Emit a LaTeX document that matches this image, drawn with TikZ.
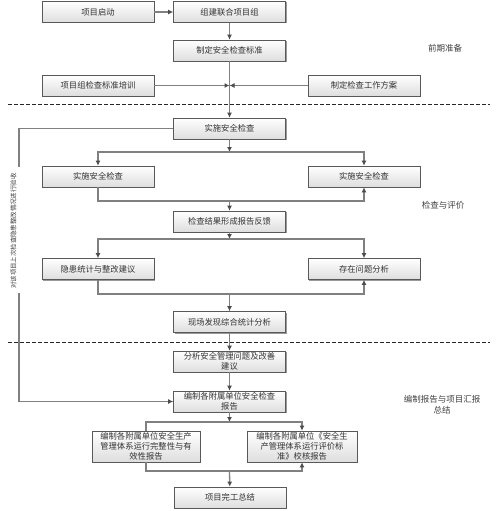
\documentclass[tikz,border=0pt]{standalone}
\usepackage{fontspec}
\newfontfamily\cjk{Noto Sans CJK SC}
\usetikzlibrary{shadows, arrows.meta}

\tikzset{
  box/.style={draw=black!65, line width=0.7pt, top color=white, bottom color=black!13,
    minimum width=112pt, minimum height=21pt, inner sep=1pt, align=center,
    font=\cjk\fontsize{8.3}{10}\selectfont, text=black!80,
    drop shadow={shadow xshift=1pt, shadow yshift=-1pt, fill=black!40, opacity=1}},
  link/.style={draw=black!50, line width=1.3pt},
  phase/.style={font=\cjk\fontsize{8.5}{11}\selectfont, text=black!75, align=center},
}

\begin{document}
\begin{tikzpicture}[x=1pt, y=-1pt, >={Latex[length=5pt, width=5pt, color=black!70]}]
    \useasboundingbox (0,0) rectangle (499,511);

    % phase 1: preparation
    \node[box] (start) at (98, 12) {项目启动};
    \node[box] (team) at (229.5, 12) {组建联合项目组};
    \node[box] (std) at (229.5, 50.5) {制定安全检查标准};
    \node[box] (train) at (98, 85.5) {项目组检查标准培训};
    \node[box] (plan) at (364, 85.5) {制定检查工作方案};
    \node[phase] (ph1) at (445, 48) {前期准备};

    \draw[link, ->] (start) -- (team);
    \draw[link, ->] (team) -- (std);
    \draw[link, ->] (train) -- (train -| std.south);
    \draw[link, ->] (plan) -- (plan -| std.south);

    \draw[black!85, dash pattern=on 4pt off 2pt] (8, 104) -- (490, 104);

    % phase 2: inspection and evaluation
    \node[box] (impl) at (229.5, 128.5) {实施安全检查};
    \node[box] (implL) at (98, 176.5) {实施安全检查};
    \node[box] (implR) at (364, 176.5) {实施安全检查};
    \node[box] (report) at (229.5, 221.5) {检查结果形成报告反馈};
    \node[box] (hazard) at (98, 269) {隐患统计与整改建议};
    \node[box] (problem) at (364, 269) {存在问题分析};
    \node[box] (stat) at (229.5, 322) {现场发现综合统计分析};
    \node[phase] (ph2) at (443, 205) {检查与评价};

    \draw[link, ->] (std) -- (impl);

    \coordinate (j1) at (229.5, 152);
    \coordinate (j2) at (229.5, 201);
    \coordinate (j3) at (229.5, 239);
    \coordinate (j4) at (229.5, 294);
    \draw[link, ->] (impl) -- (j1);
    \draw[link, ->] (j1) -| (implL);
    \draw[link, ->] (j1) -| (implR);
    \draw[link] (implL) |- (j2);
    \draw[link, ->] (j2) -| (implR);
    \draw[link, ->] (j2) -- (report);
    \draw[link, ->] (report) -- (j3);
    \draw[link, ->] (j3) -| (hazard);
    \draw[link, ->] (j3) -| (problem);
    \draw[link] (hazard) |- (j4);
    \draw[link, ->] (j4) -| (problem);
    \draw[link, ->] (j4) -- (stat);

    \draw[black!85, dash pattern=on 4pt off 2pt] (8, 342) -- (490, 342);

    % phase 3: reports and summary
    \node[box] (analyse) at (229.5, 361.5) {分析安全管理问题及改善\\建议};
    \node[box] (compile) at (229.5, 401.5) {编制各附属单位安全检查\\报告};
    \node[box, minimum width=108pt, minimum height=31pt] (sysL) at (146, 446.5)
        {编制各附属单位安全生产\\管理体系运行完整性与有\\效性报告};
    \node[box, minimum width=110pt, minimum height=31pt] (sysR) at (302, 446.5)
        {编制各附属单位《安全生\\产管理体系运行评价标\\准》校核报告};
    \node[box] (final) at (230, 497.5) {项目完工总结};
    \node[phase] (ph3) at (442, 405) {编制报告与项目汇报\\总结};

    \draw[link, ->] (stat) -- (analyse);
    \draw[link, ->] (analyse) -- (compile);

    \coordinate (j5) at (229.5, 422);
    \coordinate (j6) at (229.5, 471);
    \draw[link, ->] (compile) -- (j5);
    \draw[link] (j5) -| (sysL);
    \draw[link, ->] (j5) -| (sysR);
    \draw[link] (sysL) |- (j6);
    \draw[link, ->] (j6) -| (sysR);
    \draw[link, ->] (j6) -- (final);

    % feedback to the last inspection
    \node[phase, rotate=90, font=\cjk\fontsize{6.4}{8}\selectfont] (fbtext) at (13.5, 231)
        {对该项目上次检查隐患整改情况进行验收};
    \coordinate (fbtop) at (19, 167);
    \coordinate (fbbot) at (19, 293);
    \draw[link] (impl) -| (fbtop);
    \draw[link, ->] (fbbot) |- (compile);
\end{tikzpicture}
\end{document}
